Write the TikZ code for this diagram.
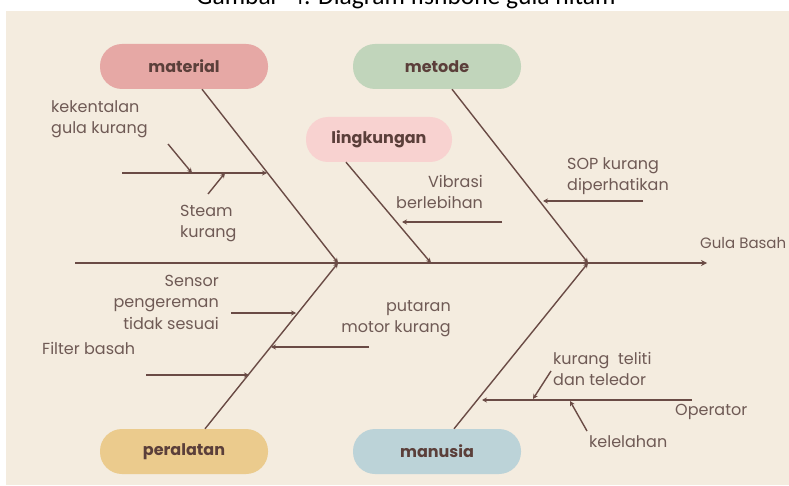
\documentclass[tikz,border=0pt]{standalone}
\usepackage{fontspec}
\setmainfont{Poppins}
\newfontfamily\titlefont{Carlito}
\usetikzlibrary{arrows.meta}
\definecolor{bgc}{HTML}{F4ECDF}
\definecolor{linec}{HTML}{6A4B45}
\definecolor{txtc}{HTML}{6F5A55}
\definecolor{boldc}{HTML}{5B3F3A}
\definecolor{matc}{HTML}{E6A8A5}
\definecolor{metc}{HTML}{C1D5BB}
\definecolor{linc}{HTML}{F8D2D0}
\definecolor{perc}{HTML}{EBCB8D}
\definecolor{manc}{HTML}{BCD3D8}
\tikzset{
  pill/.style={rounded corners=22pt, minimum width=168pt, minimum height=45pt, inner sep=0pt,
    font=\bfseries\fontsize{16}{19}\selectfont, text=boldc},
  bone/.style={draw=linec, line width=1.4pt, -{Stealth[length=5pt,width=5pt]}},
  spine/.style={draw=linec, line width=1.8pt, -{Stealth[length=6pt,width=6pt]}},
  lbl/.style={inner sep=0pt, text=txtc, font=\fontsize{16}{21.5}\selectfont},
}
\begin{document}
\begin{tikzpicture}[x=1pt,y=-1pt]
\useasboundingbox (0,0) rectangle (789,486);
\fill[white] (0,0) rectangle (789,486);
\node[anchor=base, inner sep=0pt, font=\titlefont\fontsize{25.5}{28}\selectfont] (title) at (406,5) {Gambar\ \ 4. Diagram fishbone gula hitam};
\fill[bgc] (6,11) rectangle (789,485);

% category pills
\node[pill, fill=matc] (material) at (184,66.5) {material};
\node[pill, fill=metc] (metode) at (437,66.5) {metode};
\node[pill, fill=linc, minimum width=146pt] (lingkungan) at (379,139.5) {lingkungan};
\node[pill, fill=perc] (peralatan) at (184,451.5) {peralatan};
\node[pill, fill=manc] (manusia) at (437,451.5) {manusia};

% spine
\coordinate (tail) at (75,263);
\coordinate (j1) at (338,263);
\coordinate (j2) at (431,263);
\coordinate (j3) at (588,263);
\coordinate (head) at (707,263);
\draw[spine] (tail) -- (head);
\node[lbl, anchor=north west, font=\fontsize{15}{20}\selectfont] (effect) at (700,237) {Gula Basah};

% main bones
\draw[bone] ([xshift=18pt]material.south) -- (j1);
\draw[bone] ([xshift=21pt]peralatan.north) -- (j1);
\draw[bone] ([xshift=-33pt]lingkungan.south) -- (j2);
\draw[bone] ([xshift=15pt]metode.south) -- (j3);
\draw[bone] ([xshift=17pt]manusia.north) -- (j3);

% material causes
\coordinate (m0) at (122,173);
\coordinate (m1) at (267,173);
\draw[bone] (m0) -- (m1);
\node[lbl, anchor=north west, align=left] (kek) at (51,100) {kekentalan\\gula kurang};
\coordinate (k0) at (168,144);
\coordinate (k1) at (192,173);
\draw[bone] (k0) -- (k1);
\node[lbl, anchor=north west, align=left] (steam) at (180,205) {Steam\\kurang};
\coordinate (s0) at (208,194);
\coordinate (s1) at (225,173);
\draw[bone] (s0) -- (s1);

% lingkungan cause
\node[lbl, anchor=north east, align=right] (vib) at (483,175) {Vibrasi\\berlebihan};
\coordinate (v0) at (502,222);
\coordinate (v1) at (402,222);
\draw[bone] (v0) -- (v1);

% metode cause
\node[lbl, anchor=north west, align=left] (sop) at (567,157) {SOP kurang\\diperhatikan};
\coordinate (o0) at (643,201);
\coordinate (o1) at (543,201);
\draw[bone] (o0) -- (o1);

% peralatan causes
\node[lbl, anchor=north east, align=right] (sensor) at (219,275) {Sensor\\pengereman\\tidak sesuai};
\coordinate (se0) at (231,313);
\coordinate (se1) at (296,313);
\draw[bone] (se0) -- (se1);
\node[lbl, anchor=north east, align=right] (putar) at (451,300) {putaran\\motor kurang};
\coordinate (p0) at (369,347);
\coordinate (p1) at (271,347);
\draw[bone] (p0) -- (p1);
\node[lbl, anchor=north west] (filter) at (42,342) {Filter basah};
\coordinate (f0) at (146,375);
\coordinate (f1) at (249,375);
\draw[bone] (f0) -- (f1);

% manusia causes
\coordinate (op0) at (692,400);
\coordinate (op1) at (482,400);
\draw[bone] (op0) -- (op1);
\node[lbl, anchor=north west] (oper) at (675,404) {Operator};
\node[lbl, anchor=north west, align=left] (teliti) at (553,352) {kurang\ \ teliti\\dan teledor};
\coordinate (t0) at (551,371);
\coordinate (t1) at (533,399);
\draw[bone] (t0) -- (t1);
\node[lbl, anchor=north west] (lelah) at (589,435) {kelelahan};
\coordinate (l0) at (587,431);
\coordinate (l1) at (570,401);
\draw[bone] (l0) -- (l1);
\end{tikzpicture}
\end{document}
